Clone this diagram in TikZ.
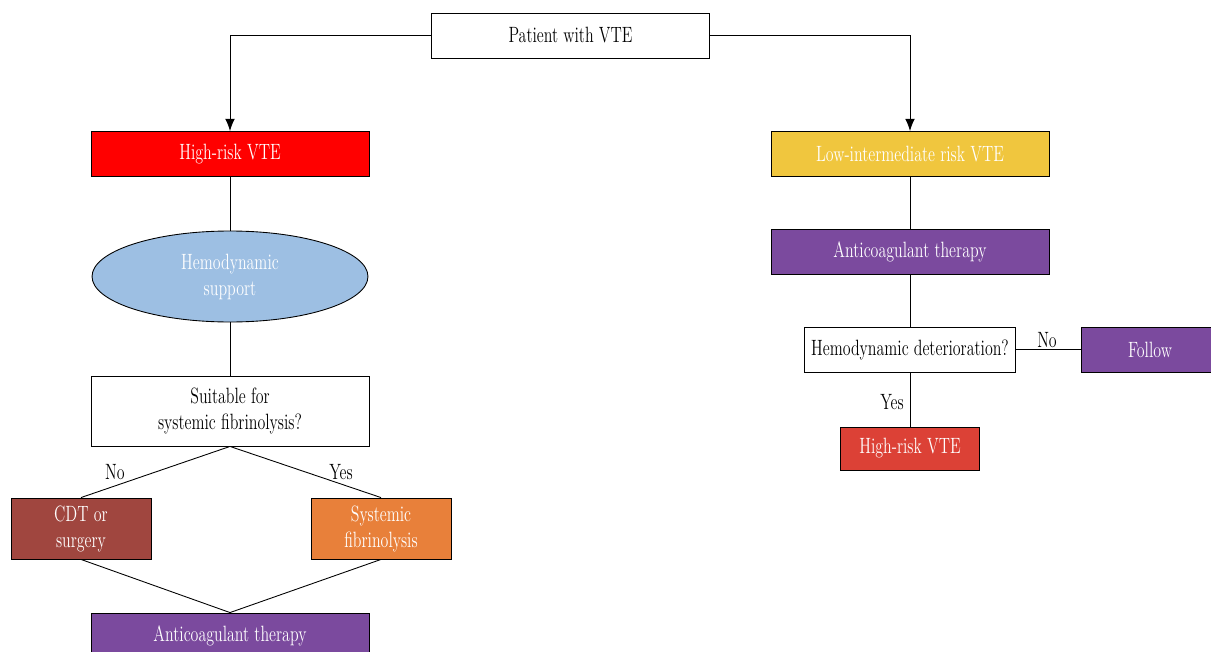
\documentclass[tikz,border=0pt]{standalone}
\usepackage{fontspec}
\setmainfont{Latin Modern Roman}[FakeStretch=0.72]
\usepackage{xcolor}
\usetikzlibrary{arrows.meta,shapes.geometric}

\definecolor{hired}{HTML}{FF0000}
\definecolor{supblue}{HTML}{9DBFE3}
\definecolor{cdtbrown}{HTML}{A0463F}
\definecolor{fibrorange}{HTML}{E8803A}
\definecolor{acpurple}{HTML}{7B4A9E}
\definecolor{lowyellow}{HTML}{F0C63E}
\definecolor{hired2}{HTML}{DC4136}

\tikzset{
  txt/.style={font=\fontsize{12.6}{14.8}\selectfont},
  box/.style={txt, draw=black, line width=0.5pt, align=center, inner sep=0pt,
    minimum width=5.56cm, minimum height=0.9cm},
  smallbox/.style={box, minimum width=2.8cm, minimum height=1.22cm},
  colbox/.style={box, fill=#1, text=white},
  lbl/.style={txt, inner sep=1pt},
  link/.style={line width=0.5pt},
  arr/.style={link, -{Latex[length=7pt,width=5.5pt]}}
}

\begin{document}
\begin{tikzpicture}[x=0.02cm,y=-0.02cm]
\useasboundingbox (0,0) rectangle (1211,652);

% top
\node[box] (patient) at (570.5,35.5) {Patient with VTE};

% left branch
\node[colbox=hired] (high) at (230,154) {High-risk VTE};
\node[txt, draw=black, line width=0.5pt, ellipse, fill=supblue, text=white, align=center,
  minimum width=5.52cm, minimum height=1.82cm, inner sep=0pt] (hemo) at (230,276.5) {Hemodynamic\\support};
\node[box, minimum height=1.4cm] (suit) at (230,411) {Suitable for\\systemic fibrinolysis?};
\node[smallbox, fill=cdtbrown, text=white] (cdt) at (81,528.5) {CDT or\\surgery};
\node[smallbox, fill=fibrorange, text=white] (fibr) at (381,528.5) {Systemic\\fibrinolysis};
\node[colbox=acpurple] (acl) at (230,635.5) {Anticoagulant therapy};
\node[lbl] (nol) at (115,472) {No};
\node[lbl] (yesl) at (341,472) {Yes};

% right branch
\node[colbox=lowyellow] (low) at (910,154) {Low-intermediate risk VTE};
\node[colbox=acpurple] (acr) at (910,251.5) {Anticoagulant therapy};
\node[box, minimum width=4.22cm] (det) at (910,349.5) {Hemodynamic deterioration?};
\node[colbox=acpurple, minimum width=2.76cm] (follow) at (1150,349.5) {Follow};
\node[colbox=hired2, minimum width=2.78cm, minimum height=0.86cm] (high2) at (910,448.5) {High-risk VTE};
\node[lbl] (nor) at (1047,340) {No};
\node[lbl] (yesr) at (892,402) {Yes};

% connectors
\draw[arr] (patient.west) -| (high.north);
\draw[arr] (patient.east) -| (low.north);
\draw[link] (high) -- (hemo);
\draw[link] (hemo) -- (suit);
\draw[link] (suit.south) -- (cdt.north);
\draw[link] (suit.south) -- (fibr.north);
\draw[link] (cdt.south) -- (acl.north);
\draw[link] (fibr.south) -- (acl.north);
\draw[link] (low) -- (acr);
\draw[link] (acr) -- (det);
\draw[link] (det) -- (follow);
\draw[link] (det) -- (high2);
\end{tikzpicture}
\end{document}
